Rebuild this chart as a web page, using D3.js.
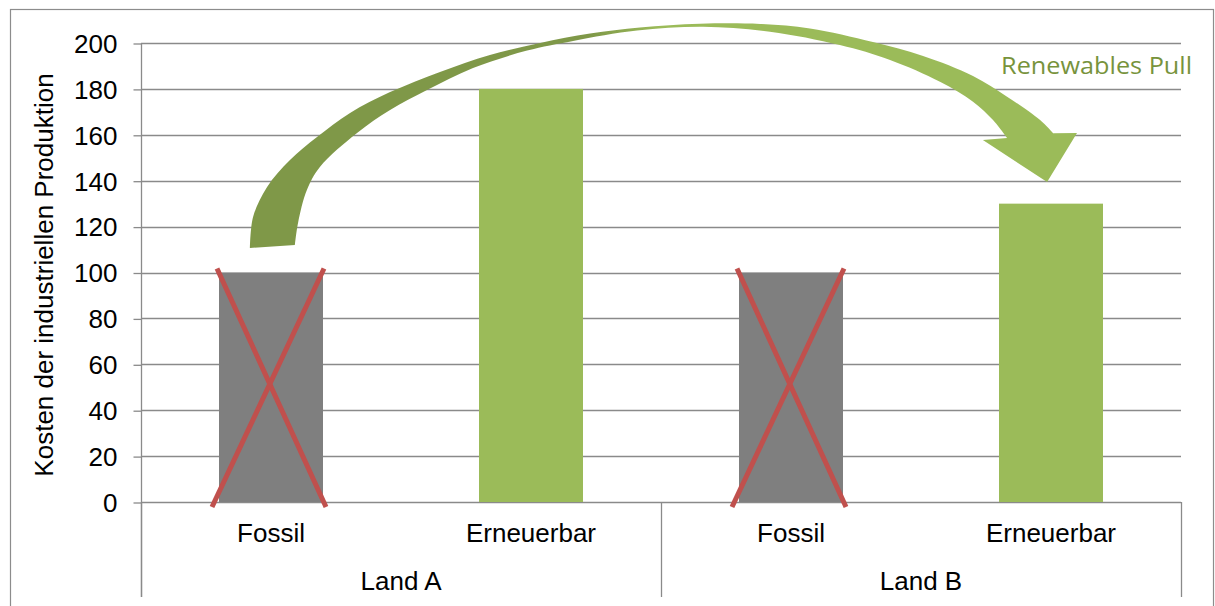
<!DOCTYPE html>
<html>
<head>
<meta charset="utf-8">
<script src="https://cdn.jsdelivr.net/npm/d3@7"></script>
<style>
  html, body { margin: 0; padding: 0; background: #fff; }
  svg { display: block; }
  text { font-family: "Liberation Sans", Arial, sans-serif; fill: #000; }
</style>
</head>
<body>
<svg id="chart" width="1215" height="606"></svg>
<script>
// Cost comparison of industrial production, grouped by country
const categories = ["Fossil", "Erneuerbar", "Fossil", "Erneuerbar"];
const groups = ["Land A", "Land A", "Land B", "Land B"];
const groupNames = ["Land A", "Land B"];
const values = [100, 180, 100, 130];
const barColors = ["#7f7f7f", "#9bbb59", "#7f7f7f", "#9bbb59"];
const crossed = [true, false, true, false];
const yTicks = [0, 20, 40, 60, 80, 100, 120, 140, 160, 180, 200];
const yTitle = "Kosten der industriellen Produktion";
const arrowLabel = "Renewables Pull";

// Curved arrow outline in chart units: [category position, value]
const arrowOuter = [
  [0.419, 110.7], [0.431, 124.2], [0.485, 137.3], [0.573, 149.0], [0.677, 159.0],
  [0.804, 169.5], [0.958, 178.6], [1.150, 187.4], [1.342, 194.8], [1.535, 200.0],
  [1.727, 204.1], [1.919, 206.8], [2.150, 208.4], [2.381, 208.3], [2.573, 206.3],
  [2.815, 200.4], [3.008, 194.3], [3.200, 185.6], [3.331, 176.6], [3.458, 166.4],
  [3.508, 160.7]
];
const arrowHead = [[3.600, 160.8], [3.485, 139.4], [3.238, 157.7]];
const arrowInner = [
  [3.331, 158.6], [3.277, 166.4], [3.200, 174.4], [3.073, 183.1], [2.881, 192.6],
  [2.688, 199.1], [2.419, 204.9], [2.162, 207.1], [1.908, 205.4], [1.662, 200.9],
  [1.485, 196.7], [1.277, 189.1], [1.100, 179.5], [0.958, 170.8], [0.831, 160.8],
  [0.688, 146.0], [0.638, 135.9], [0.604, 121.6], [0.592, 112.0]
];
const labelPos = [3.308, 186.3];

const svg = d3.select("#chart");
const gridColor = "#8a8a8a";

const plot = { left: 141, right: 1181, top: 43, bottom: 502, axisBottom: 597 };

const x = d3.scaleBand()
  .domain(d3.range(categories.length))
  .range([plot.left, plot.right])
  .padding(0);
const xu = d3.scaleLinear().domain([0, categories.length]).range([plot.left, plot.right]);
const y = d3.scaleLinear().domain([0, 200]).range([plot.bottom, plot.top]);

// Outer chart frame
svg.append("rect")
  .attr("x", 10.5).attr("y", 9.5)
  .attr("width", 1203).attr("height", 620)
  .attr("fill", "none").attr("stroke", "#8c8c8c").attr("stroke-width", 1.2);

// Horizontal gridlines
svg.append("g")
  .selectAll("line")
  .data(yTicks)
  .join("line")
  .attr("x1", plot.left).attr("x2", plot.right)
  .attr("y1", d => Math.round(y(d)) + 0.5).attr("y2", d => Math.round(y(d)) + 0.5)
  .attr("stroke", gridColor).attr("stroke-width", 1.3);

// Value axis
const yAxis = svg.append("g")
  .attr("transform", `translate(${plot.left + 0.5},0.5)`)
  .call(d3.axisLeft(y).tickValues(yTicks).tickSize(8).tickPadding(16).tickSizeOuter(0));
yAxis.select(".domain").remove();
yAxis.selectAll(".tick line").attr("stroke", gridColor).attr("stroke-width", 1.3);
yAxis.selectAll(".tick text")
  .attr("font-size", 26)
  .attr("font-family", "'Liberation Sans', Arial, sans-serif")
  .attr("fill", "#000")
  .attr("dy", "0.34em");

// Axis lines (vertical value axis continues through the category area)
svg.append("line")
  .attr("x1", plot.left + 0.5).attr("x2", plot.left + 0.5)
  .attr("y1", plot.top).attr("y2", plot.axisBottom)
  .attr("stroke", gridColor).attr("stroke-width", 1.3);

// Group separators of the two-level category axis
const groupBounds = [0, 2, 4];
svg.append("g")
  .selectAll("line")
  .data(groupBounds)
  .join("line")
  .attr("x1", d => Math.round(xu(d)) + 0.5).attr("x2", d => Math.round(xu(d)) + 0.5)
  .attr("y1", plot.bottom).attr("y2", plot.axisBottom)
  .attr("stroke", gridColor).attr("stroke-width", 1.3);

// Bars
const barW = x.bandwidth() * 0.4;
svg.append("g")
  .selectAll("rect")
  .data(values)
  .join("rect")
  .attr("x", (d, i) => x(i) + (x.bandwidth() - barW) / 2)
  .attr("y", d => y(d))
  .attr("width", barW)
  .attr("height", d => y(0) - y(d))
  .attr("fill", (d, i) => barColors[i]);

// Red crosses over the fossil bars
const crossG = svg.append("g");
values.forEach((v, i) => {
  if (!crossed[i]) return;
  const l = x(i) + (x.bandwidth() - barW) / 2;
  const r = l + barW;
  const top = y(v) - 4, bot = y(0) + 5;
  crossG.append("line")
    .attr("x1", l - 2).attr("y1", top).attr("x2", r + 3).attr("y2", bot);
  crossG.append("line")
    .attr("x1", r + 1).attr("y1", top).attr("x2", l - 7).attr("y2", bot);
});
crossG.selectAll("line")
  .attr("stroke", "#c0504d").attr("stroke-width", 5);

// Category labels
svg.append("g")
  .selectAll("text")
  .data(categories)
  .join("text")
  .attr("x", (d, i) => x(i) + x.bandwidth() / 2)
  .attr("y", 542)
  .attr("text-anchor", "middle")
  .attr("font-size", 26)
  .text(d => d);

// Group labels
svg.append("g")
  .selectAll("text")
  .data(groupNames)
  .join("text")
  .attr("x", (d, gi) => (xu(gi * 2) + xu(gi * 2 + 2)) / 2)
  .attr("y", 590)
  .attr("text-anchor", "middle")
  .attr("font-size", 26)
  .text(d => d);

// Y axis title
svg.append("text")
  .attr("transform", `translate(53,${(70 + 480) / 2}) rotate(-90)`)
  .attr("text-anchor", "middle")
  .attr("font-size", 26)
  .text(yTitle);

// Curved arrow
const defs = svg.append("defs");
const grad = defs.append("linearGradient")
  .attr("id", "arrowGrad")
  .attr("gradientUnits", "userSpaceOnUse")
  .attr("x1", xu(1.727)).attr("y1", 0)
  .attr("x2", xu(1.996)).attr("y2", 0);
grad.append("stop").attr("offset", 0).attr("stop-color", "#7f9848");
grad.append("stop").attr("offset", 1).attr("stop-color", "#9bbb59");

const toPx = p => [xu(p[0]), y(p[1])];
const curve = d3.line().curve(d3.curveCatmullRom.alpha(0.5));
const outerD = curve(arrowOuter.map(toPx));
const innerD = curve(arrowInner.map(toPx)).replace(/^M/, "L");
const headD = arrowHead.map(toPx).map(p => `L${p[0]},${p[1]}`).join("");
svg.append("path")
  .attr("d", outerD + headD + innerD + "Z")
  .attr("fill", "url(#arrowGrad)");

// Arrow label
svg.append("text")
  .attr("x", xu(labelPos[0]))
  .attr("y", y(labelPos[1]))
  .style("font-family", "'Open Sans', 'Noto Sans', sans-serif")
  .attr("font-size", 23.5)
  .attr("textLength", 191)
  .attr("lengthAdjust", "spacingAndGlyphs")
  .style("fill", "#77933c")
  .text(arrowLabel);
</script>
</body>
</html>
